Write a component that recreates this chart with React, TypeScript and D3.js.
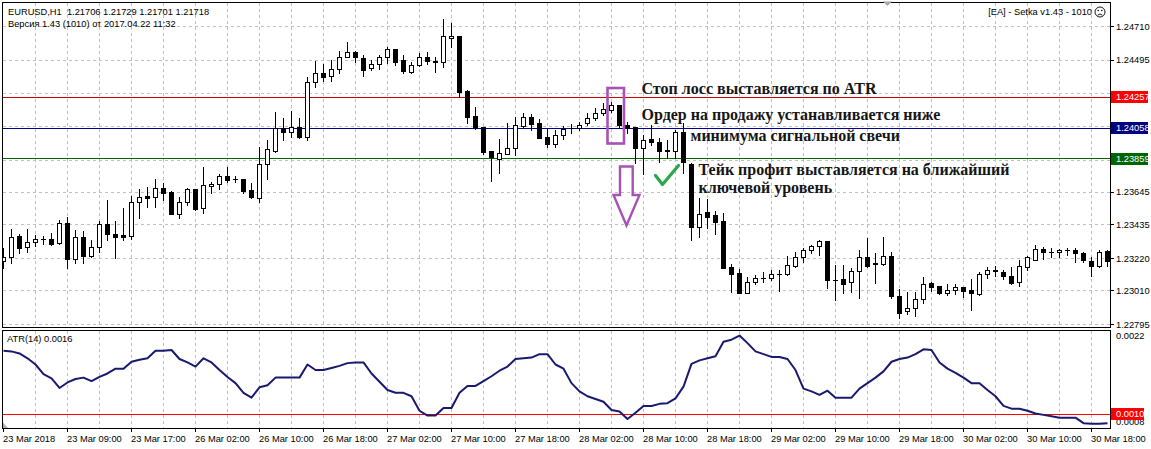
import React from 'react';
import * as d3 from 'd3';

// ---------- DATA ----------
const opens = [
  1.23202, 1.2323, 1.23363, 1.2329, 1.23323, 1.23342, 1.23342, 1.23316, 1.23445, 1.23213,
  1.23355, 1.23236, 1.23294, 1.23438, 1.23374, 1.23368, 1.23365, 1.2358, 1.23619, 1.23612,
  1.2367, 1.23644, 1.23503, 1.2358, 1.23664, 1.23541, 1.23685, 1.23698, 1.23747, 1.23728,
  1.23728, 1.23659, 1.23606, 1.23825, 1.23912, 1.24056, 1.2403, 1.24063, 1.23998, 1.24356,
  1.2441, 1.24395, 1.24436, 1.24517, 1.24545, 1.24507, 1.24442, 1.24468, 1.24513, 1.24565,
  1.24496, 1.2442, 1.24464, 1.24513, 1.24489, 1.24481, 1.24635, 1.2465, 1.24296, 1.24135,
  1.24063, 1.2391, 1.23861, 1.23893, 1.23928, 1.24073, 1.24127, 1.24088, 1.23998, 1.23955,
  1.24013, 1.24056, 1.24056, 1.24088, 1.24121, 1.24153, 1.24174, 1.24206, 1.24078, 1.24063,
  1.23928, 1.23986, 1.2397, 1.23917, 1.2391, 1.24034, 1.23827, 1.23423, 1.23516, 1.23498,
  1.2346, 1.23162, 1.23123, 1.22998, 1.23069, 1.23091, 1.23091, 1.23117, 1.23117, 1.2317,
  1.23226, 1.23273, 1.23299, 1.23331, 1.2308, 1.23087, 1.23065, 1.23138, 1.23226, 1.23191,
  1.23181, 1.23236, 1.22979, 1.22881, 1.22898, 1.22958, 1.23059, 1.23041, 1.22995, 1.23016,
  1.23033, 1.23016, 1.2299, 1.23117, 1.23144, 1.2313, 1.23108, 1.23065, 1.23162, 1.23209,
  1.23278, 1.23262, 1.23258, 1.23273, 1.23273, 1.23256, 1.23202, 1.23172, 1.23267,
];
const highs = [
  1.23284, 1.23408, 1.23376, 1.23408, 1.2337, 1.23363, 1.23381, 1.23466, 1.23484, 1.23402,
  1.23395, 1.23337, 1.2346, 1.23595, 1.2346, 1.23545, 1.23623, 1.23664, 1.2368, 1.23728,
  1.23702, 1.23655, 1.23612, 1.2367, 1.23668, 1.23805, 1.23711, 1.23762, 1.23805, 1.23749,
  1.2373, 1.23702, 1.23934, 1.23981, 1.24159, 1.24121, 1.24168, 1.24121, 1.24388, 1.24489,
  1.2447, 1.24496, 1.24554, 1.24614, 1.24554, 1.24528, 1.24496, 1.24528, 1.24581, 1.24567,
  1.24528, 1.24485, 1.24543, 1.24545, 1.24517, 1.2476, 1.24732, 1.24652, 1.24303, 1.24191,
  1.24067, 1.23912, 1.23986, 1.24088, 1.24127, 1.24153, 1.24148, 1.24114, 1.2405, 1.24045,
  1.24071, 1.24084, 1.24097, 1.24153, 1.24185, 1.24217, 1.24227, 1.24208, 1.24099, 1.24066,
  1.24013, 1.24078, 1.23992, 1.23981, 1.24045, 1.24088, 1.23831, 1.23608, 1.23601, 1.23524,
  1.23509, 1.23181, 1.23149, 1.23101, 1.23112, 1.2313, 1.23144, 1.23144, 1.23235, 1.23262,
  1.23284, 1.23305, 1.23337, 1.23334, 1.23177, 1.23177, 1.23155, 1.23273, 1.23348, 1.23252,
  1.23355, 1.23258, 1.2302, 1.23001, 1.23005, 1.23097, 1.23069, 1.23043, 1.23054, 1.23054,
  1.23037, 1.23087, 1.23133, 1.23166, 1.2317, 1.23144, 1.23162, 1.23209, 1.23235, 1.23305,
  1.23294, 1.23284, 1.23278, 1.23284, 1.23284, 1.23262, 1.2323, 1.23273, 1.23273,
];
const lows = [
  1.23155, 1.23188, 1.23252, 1.23262, 1.23301, 1.2331, 1.23305, 1.2331, 1.23159, 1.23191,
  1.23188, 1.2323, 1.23262, 1.23337, 1.23224, 1.23337, 1.23342, 1.23481, 1.23548, 1.23548,
  1.23595, 1.23503, 1.23481, 1.23563, 1.23531, 1.23509, 1.23638, 1.23664, 1.23713, 1.23709,
  1.23642, 1.2361, 1.23584, 1.2373, 1.23905, 1.23981, 1.24002, 1.23992, 1.23981, 1.24324,
  1.24363, 1.24363, 1.2441, 1.24513, 1.24485, 1.24393, 1.24431, 1.24436, 1.24475, 1.24464,
  1.24414, 1.24414, 1.24459, 1.2447, 1.2442, 1.24453, 1.24577, 1.2426, 1.24092, 1.2405,
  1.23891, 1.23719, 1.23767, 1.23889, 1.23884, 1.24056, 1.24045, 1.23992, 1.23938, 1.23938,
  1.23987, 1.24024, 1.24045, 1.24078, 1.2411, 1.24142, 1.24159, 1.24063, 1.24024, 1.23831,
  1.23762, 1.23949, 1.23841, 1.23863, 1.23863, 1.23767, 1.23337, 1.23359, 1.23413, 1.23374,
  1.23157, 1.23001, 1.22995, 1.22996, 1.23054, 1.23069, 1.2308, 1.23011, 1.23115, 1.23162,
  1.23198, 1.23252, 1.23241, 1.23031, 1.22951, 1.22995, 1.23001, 1.22966, 1.23166, 1.23059,
  1.23179, 1.22962, 1.22834, 1.22859, 1.2285, 1.2293, 1.23009, 1.2299, 1.22984, 1.2299,
  1.22973, 1.22887, 1.22984, 1.23091, 1.23106, 1.23087, 1.23052, 1.23043, 1.23144, 1.23207,
  1.23215, 1.2323, 1.2323, 1.23241, 1.23198, 1.23198, 1.23108, 1.23166, 1.2317,
];
const closes = [
  1.2323, 1.23359, 1.23288, 1.23323, 1.23342, 1.23343, 1.23312, 1.23445, 1.23213, 1.23359,
  1.23236, 1.23294, 1.23438, 1.23374, 1.23359, 1.23359, 1.2358, 1.23616, 1.2361, 1.2367,
  1.23642, 1.23507, 1.2358, 1.23664, 1.23537, 1.2369, 1.23698, 1.23747, 1.23726, 1.23727,
  1.23655, 1.23612, 1.23827, 1.23921, 1.24056, 1.2403, 1.24063, 1.23998, 1.24356, 1.2441,
  1.24388, 1.24436, 1.24517, 1.24545, 1.24513, 1.24431, 1.24468, 1.24513, 1.24565, 1.24485,
  1.24427, 1.24464, 1.24513, 1.24491, 1.24481, 1.2465, 1.2465, 1.24292, 1.24131, 1.2406,
  1.23906, 1.2387, 1.23895, 1.23928, 1.24076, 1.24131, 1.24084, 1.23996, 1.23955, 1.24013,
  1.2405, 1.24057, 1.24078, 1.24121, 1.24153, 1.24178, 1.24206, 1.24078, 1.24056, 1.23928,
  1.23981, 1.2397, 1.23912, 1.23908, 1.24034, 1.23841, 1.23423, 1.23505, 1.23487, 1.23455,
  1.23159, 1.23117, 1.22998, 1.23069, 1.23091, 1.23092, 1.23117, 1.23118, 1.23177, 1.23226,
  1.23273, 1.23299, 1.23331, 1.2308, 1.23079, 1.23052, 1.23138, 1.23226, 1.23172, 1.23181,
  1.23236, 1.22979, 1.2287, 1.22898, 1.22958, 1.23052, 1.23037, 1.22995, 1.23016, 1.23033,
  1.23011, 1.22995, 1.23117, 1.23144, 1.23138, 1.23108, 1.23059, 1.2317, 1.23226, 1.23278,
  1.23262, 1.23261, 1.23273, 1.23272, 1.23252, 1.23209, 1.23172, 1.23262, 1.23202,
];
const atrValues = [
  0.00192, 0.00191, 0.00188, 0.00181, 0.00172, 0.00158, 0.00152, 0.00138, 0.00146, 0.00151,
  0.00153, 0.00148, 0.00154, 0.00159, 0.00166, 0.00166, 0.00176, 0.00179, 0.00181, 0.00192,
  0.00192, 0.00193, 0.0018, 0.00175, 0.00169, 0.00181, 0.00175, 0.00164, 0.00154, 0.00145,
  0.00131, 0.00124, 0.00139, 0.00142, 0.00153, 0.00153, 0.00153, 0.00153, 0.00172, 0.00164,
  0.00164, 0.00167, 0.0017, 0.00174, 0.00175, 0.00175, 0.00159, 0.00147, 0.00135, 0.00131,
  0.00131, 0.00126, 0.00105, 0.00098, 0.00098, 0.00109, 0.00109, 0.00131, 0.00141, 0.00141,
  0.00148, 0.00155, 0.00163, 0.00169, 0.0018, 0.00181, 0.00182, 0.00187, 0.00187, 0.00172,
  0.00166, 0.00145, 0.00133, 0.00126, 0.00122, 0.00118, 0.00106, 0.00104, 0.00093, 0.00102,
  0.00112, 0.00112, 0.00115, 0.00116, 0.00123, 0.0014, 0.00173, 0.00178, 0.00181, 0.00184,
  0.00205, 0.00208, 0.00214, 0.00203, 0.00191, 0.00187, 0.00183, 0.00183, 0.0018, 0.00164,
  0.00137, 0.00133, 0.00128, 0.00134, 0.00124, 0.00124, 0.00124, 0.00137, 0.00145, 0.00153,
  0.00162, 0.00176, 0.0018, 0.00182, 0.00187, 0.00194, 0.00193, 0.00175, 0.00166, 0.0016,
  0.00153, 0.00145, 0.00145, 0.00135, 0.00126, 0.00112, 0.00108, 0.00108, 0.00105, 0.00101,
  0.00099, 0.00097, 0.00095, 0.00095, 0.00095, 0.00087, 0.00086, 0.00086, 0.00087,
];
const timeLabels = [
  '23 Mar 2018', '23 Mar 09:00', '23 Mar 17:00', '26 Mar 02:00', '26 Mar 10:00', '26 Mar 18:00',
  '27 Mar 02:00', '27 Mar 10:00', '27 Mar 18:00', '28 Mar 02:00', '28 Mar 10:00', '28 Mar 18:00',
  '29 Mar 02:00', '29 Mar 10:00', '29 Mar 18:00', '30 Mar 02:00', '30 Mar 10:00', '30 Mar 18:00',
];
const priceTicks = [1.2471, 1.24495, 1.2428, 1.24065, 1.2385, 1.23645, 1.23435, 1.2322, 1.2301, 1.22795];
const levelValues = [1.24257, 1.24058, 1.23859]; // stop loss, order, take profit
const atrTicks = [0.0022, 0.0008];
const atrLevel = 0.001;
const headerLines = ['EURUSD,H1  1.21706 1.21729 1.21701 1.21718', 'Версия 1.43 (1010) от 2017.04.22 11:32'];
const eaTitle = '[EA] - Setka v1.43 - 1010';
const atrTitle = 'ATR(14) 0.0016';
const noteLines = [
  'Стоп лосс выставляется по ATR',
  'Ордер на продажу устанавливается ниже',
  'минимума сигнальной свечи',
  'Тейк профит выставляется на ближайший',
  'ключевой уровень',
];

// ---------- CHART ----------
const W = 1151;
const H = 449;
const L = 2;
const R = 1110;
const MAIN_TOP = 2;
const MAIN_BOTTOM = 327;
const SUB_TOP = 330;
const SUB_BOTTOM = 428;
const AXIS_FONT = '"Liberation Sans", Arial, sans-serif';
const NOTE_FONT = '"Liberation Serif", "Times New Roman", serif';

const px = (v: number) => Math.round(v - 0.5) + 0.5;

export default function App() {
  const n = opens.length;
  const x = d3.scaleLinear().domain([0, n - 1]).range([3.5, 3.5 + 8 * (n - 1)]);
  const y = d3.scaleLinear().domain([1.22795, 1.2471]).range([324.3, 26.7]);
  const ya = d3.scaleLinear().domain([0.0008, 0.00222]).range([428, 330]);

  const atrLine = d3
    .line<number>()
    .x((_, i) => x(i))
    .y((v) => ya(v))
    .curve(d3.curveLinear)(atrValues) as string;

  const gridIdx = d3.range(4, n, 4);
  const labelIdx = d3.range(0, n, 8).slice(0, timeLabels.length);
  const levelColors = ['#D00000', '#000090', '#006400'];
  const levelBoxes = ['#FF0000', '#000080', '#006400'];
  // tick labels hidden behind the level boxes (as in the terminal)
  const visibleTicks = priceTicks.filter((t) => levelValues.every((v) => Math.abs(y(t) - y(v)) > 8));

  const candles = opens.map((o, i) => {
    const c = closes[i];
    const cx = x(i);
    const yTop = Math.round(y(Math.max(o, c)));
    const yBot = Math.round(y(Math.min(o, c)));
    const bull = c >= o;
    const wick = (
      <line
        key={'w' + i}
        x1={cx}
        x2={cx}
        y1={Math.round(y(highs[i]))}
        y2={Math.round(y(lows[i])) + 1}
        stroke="#000"
        strokeWidth={1}
      />
    );
    let body;
    if (yBot - yTop < 1) {
      body = <line key={'b' + i} x1={cx - 2.5} x2={cx + 2.5} y1={yTop + 0.5} y2={yTop + 0.5} stroke="#000" strokeWidth={1} />;
    } else {
      body = (
        <rect
          key={'b' + i}
          x={cx - 2}
          y={yTop + 0.5}
          width={4}
          height={yBot - yTop}
          fill={bull ? '#fff' : '#000'}
          stroke="#000"
          strokeWidth={1}
        />
      );
    }
    return (
      <g key={i}>
        {wick}
        {body}
      </g>
    );
  });

  return (
    <svg
      width={W}
      height={H}
      viewBox={`0 0 ${W} ${H}`}
      style={{ position: 'absolute', left: 0, top: 0, background: '#fff' }}
    >
      <defs>
        <clipPath id="mainClip">
          <rect x={L} y={MAIN_TOP} width={R - L} height={MAIN_BOTTOM - MAIN_TOP} />
        </clipPath>
        <clipPath id="subClip">
          <rect x={L} y={SUB_TOP} width={R - L} height={SUB_BOTTOM - SUB_TOP} />
        </clipPath>
      </defs>
      <rect x={0} y={0} width={W} height={H} fill="#fff" />

      {/* grid main */}
      <g stroke="#c0c0c0" strokeWidth={1} strokeDasharray="3,3">
        {gridIdx.map((i) => (
          <line key={'gv' + i} x1={x(i)} x2={x(i)} y1={MAIN_TOP + 1} y2={MAIN_BOTTOM} />
        ))}
        {priceTicks.map((t) => (
          <line key={'gh' + t} x1={L + 1} x2={R} y1={px(y(t))} y2={px(y(t))} />
        ))}
        {gridIdx.map((i) => (
          <line key={'gs' + i} x1={x(i)} x2={x(i)} y1={SUB_TOP + 1} y2={SUB_BOTTOM} />
        ))}
      </g>

      {/* level lines */}
      {levelValues.map((v, k) => (
        <line key={'lv' + k} x1={L} x2={R} y1={px(y(v))} y2={px(y(v))} stroke={levelColors[k]} strokeWidth={1} />
      ))}

      {/* candles */}
      <g clipPath="url(#mainClip)">{candles}</g>

      {/* annotations */}
      <rect x={607.5} y={88} width={16.5} height={55.5} fill="none" stroke="#a653b3" strokeWidth={2.6} />
      <path
        d="M620,166.5 L632.7,166.5 L632.7,195 L639.5,195 L626.5,225.5 L613.5,195 L620,195 Z"
        fill="none"
        stroke="#a653b3"
        strokeWidth={2.4}
        strokeLinejoin="miter"
      />
      <path d="M655.5,175.5 L662.5,184.5 L678.5,165.5" fill="none" stroke="#2aa84a" strokeWidth={3.2} strokeLinecap="round" strokeLinejoin="round" />
      <g fontFamily={NOTE_FONT} fontWeight="bold" fontSize={16} fill="#161616">
        <text x={641.5} y={94} textLength={235} lengthAdjust="spacingAndGlyphs">{noteLines[0]}</text>
        <text x={641.5} y={120}>{noteLines[1]}</text>
        <text x={690.5} y={141}>{noteLines[2]}</text>
        <text x={698.5} y={174.5}>{noteLines[3]}</text>
        <text x={698.5} y={192.5}>{noteLines[4]}</text>
      </g>

      {/* ATR subwindow */}
      <line x1={L} x2={R} y1={px(ya(atrLevel))} y2={px(ya(atrLevel))} stroke="#ff0000" strokeWidth={1} />
      <g clipPath="url(#subClip)">
        <path d={atrLine} fill="none" stroke="#191970" strokeWidth={2} strokeLinejoin="round" />
      </g>
      <polygon points="2.5,422 2.5,428 8,428" fill="#b0b0b0" />

      {/* frames */}
      <rect x={L + 0.5} y={MAIN_TOP + 0.5} width={R - L} height={MAIN_BOTTOM - MAIN_TOP} fill="none" stroke="#000" strokeWidth={1} />
      <rect x={L + 0.5} y={SUB_TOP + 0.5} width={R - L} height={SUB_BOTTOM - SUB_TOP} fill="none" stroke="#000" strokeWidth={1} />
      <polygon points="883,1.5 892,1.5 887.5,6" fill="#a8a8a8" />

      {/* header texts */}
      <g fontFamily={AXIS_FONT} fontSize={9.3} fill="#000">
        <text x={8} y={14.5} style={{ whiteSpace: 'pre' }}>{headerLines[0]}</text>
        <text x={8} y={26.5}>{headerLines[1]}</text>
        <text x={1092} y={15} textAnchor="end">{eaTitle}</text>
        <text x={7} y={342}>{atrTitle}</text>
      </g>
      <g stroke="#000" fill="none" strokeWidth={0.9}>
        <circle cx={1100} cy={12} r={5} />
        <path d="M1097.6,15.2 Q1100,12.8 1102.4,15.2" />
      </g>
      <circle cx={1098.2} cy={10.5} r={0.8} fill="#000" />
      <circle cx={1101.8} cy={10.5} r={0.8} fill="#000" />

      {/* price axis */}
      <g fontFamily={AXIS_FONT} fontSize={9.3} fill="#000">
        {priceTicks.map((t) => (
          <line key={'ptk' + t} x1={R} x2={R + 4} y1={px(y(t))} y2={px(y(t))} stroke="#000" />
        ))}
        {visibleTicks.map((t) => (
          <text key={'pt' + t} x={1116} y={y(t)} dy="0.35em">{t.toFixed(5)}</text>
        ))}
      </g>
      {levelValues.map((v, k) => (
        <g key={'lb' + k}>
          <rect x={1111} y={Math.round(y(v)) - 6} width={37} height={12} fill={levelBoxes[k]} />
          <text x={1116} y={y(v)} dy="0.35em" fontFamily={AXIS_FONT} fontSize={9.3} fill="#fff">
            {v.toFixed(5)}
          </text>
        </g>
      ))}

      {/* ATR axis */}
      <g fontFamily={AXIS_FONT} fontSize={9.3} fill="#000">
        <text x={1116} y={336} dy="0.35em">{atrTicks[0].toFixed(4)}</text>
        <text x={1116} y={422} dy="0.35em">{atrTicks[1].toFixed(4)}</text>
      </g>
      <rect x={1111} y={Math.round(ya(atrLevel)) - 6} width={33} height={12} fill="#ff0000" />
      <text x={1116} y={ya(atrLevel)} dy="0.35em" fontFamily={AXIS_FONT} fontSize={9.3} fill="#fff">
        {atrLevel.toFixed(4)}
      </text>

      {/* time axis */}
      <g fontFamily={AXIS_FONT} fontSize={9.3} fill="#000">
        {labelIdx.map((i, k) => (
          <g key={'tl' + i}>
            <line x1={x(i)} x2={x(i)} y1={SUB_BOTTOM} y2={SUB_BOTTOM + 4} stroke="#000" />
            <text x={Math.max(3, x(i) - 0.5)} y={442}>{timeLabels[k]}</text>
          </g>
        ))}
      </g>
    </svg>
  );
}
